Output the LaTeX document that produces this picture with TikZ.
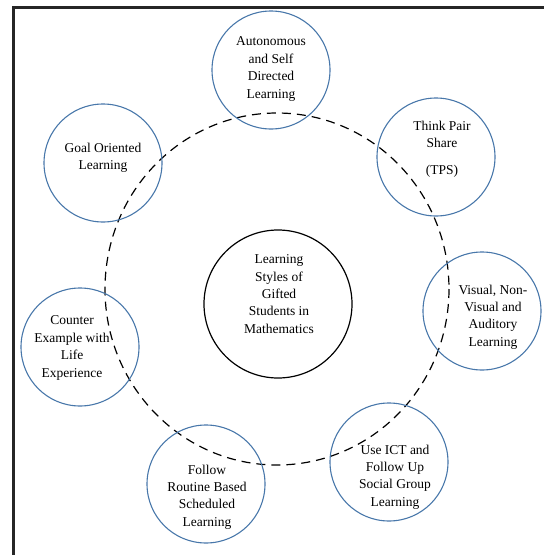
\documentclass[tikz,border=0pt]{standalone}
\usepackage{fontspec}
\setmainfont{Liberation Serif}
\usepackage{tikz}
\usetikzlibrary{positioning}
\definecolor{ringblue}{RGB}{72,119,170}
\definecolor{framegray}{RGB}{38,38,38}

\begin{document}
\begin{tikzpicture}[x=1pt,y=-1pt,
  topic/.style={draw=ringblue,line width=1.1pt},
  lbl/.style={align=center,font=\fontsize{13.5}{17.4}\selectfont,inner sep=0pt}]

  \useasboundingbox (0,0) rectangle (544,555);

  % frame (only top and left edges show)
  \draw[framegray,line width=3pt] (544,7) -- (13,7) -- (13,555);

  % dashed ring
  \draw[dash pattern=on 9pt off 6pt,line width=1.2pt] (277,289) ellipse (172 and 176);

  % centre circle
  \draw[line width=1.2pt] (278,304) circle (74);
  \node[lbl] (centre) at (279,294) {Learning\\Styles of\\Gifted\\Students in\\Mathematics};

  % outer circles
  \foreach \x/\y in {271/70,436/157,482/311,389/462,206/484,80/347,103/163} {
    \draw[topic] (\x,\y) circle (59);
  }

  \node[lbl] (auto) at (271,69) {Autonomous\\and Self\\Directed\\Learning};
  \node[lbl] (tps) at (442,149) {Think Pair\\Share\\[9pt](TPS)};
  \node[lbl] (visual) at (493,317) {Visual, Non-\\Visual and\\Auditory\\Learning};
  \node[lbl] (ict) at (395,477) {Use ICT and\\Follow Up\\Social Group\\Learning};
  \node[lbl] (routine) at (207,497) {Follow\\Routine Based\\Scheduled\\Learning};
  \node[lbl] (counter) at (72,348) {Counter\\Example with\\Life\\Experience};
  \node[lbl] (goal) at (103,158) {Goal Oriented\\Learning};

\end{tikzpicture}
\end{document}
